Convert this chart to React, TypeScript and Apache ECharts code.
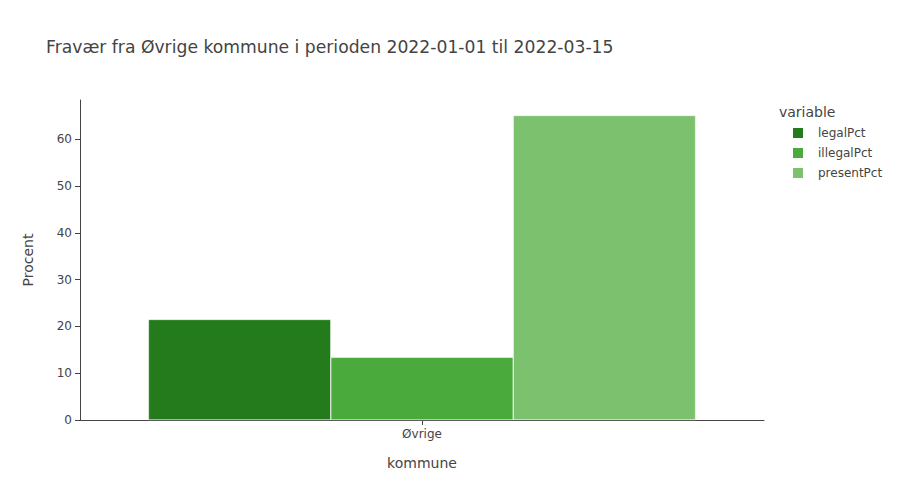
import React, { useEffect, useRef } from "react";
import * as echarts from "echarts";

const categories = ["Øvrige"];
const seriesNames = ["legalPct", "illegalPct", "presentPct"];
const legalPct = [21.5];
const illegalPct = [13.4];
const presentPct = [65.1];
const colors = ["#237b1b", "#4aab3c", "#7cc16d"];
const titleText = "Fravær fra Øvrige kommune i perioden 2022-01-01 til 2022-03-15";

const FONT = '"DejaVu Sans", verdana, arial, sans-serif';

export default function App() {
  const ref = useRef<HTMLDivElement>(null);
  useEffect(() => {
    document.body.style.margin = "0";
    if (!ref.current) return;
    const chart = echarts.init(ref.current, null, { renderer: "svg" });
    const values = [legalPct, illegalPct, presentPct];
    chart.setOption({
      animation: false,
      textStyle: { fontFamily: FONT, color: "#444" },
      title: {
        text: titleText,
        left: 41,
        top: 33,
        textStyle: { fontFamily: FONT, fontSize: 17.2, fontWeight: "normal", color: "#444" },
      },
      grid: { left: 80, right: 136, top: 100, bottom: 80, containLabel: false },
      legend: {
        left: 786,
        top: 121,
        orient: "vertical",
        icon: "rect",
        itemWidth: 12,
        itemHeight: 12,
        itemGap: 6,
        textStyle: { fontFamily: FONT, fontSize: 12, color: "#444", padding: [0, 0, 0, 9] },
        data: seriesNames,
      },
      graphic: [
        {
          type: "text",
          left: 779,
          top: 105,
          style: { text: "variable", fontFamily: FONT, fontSize: 14, fill: "#444" },
        },
      ],
      xAxis: {
        type: "category",
        data: categories,
        name: "kommune",
        nameLocation: "middle",
        nameGap: 36,
        nameTextStyle: { fontFamily: FONT, fontSize: 14, color: "#444" },
        axisLine: { lineStyle: { color: "#444", width: 1 } },
        axisTick: { show: true, alignWithLabel: true, length: 5, lineStyle: { color: "#444" } },
        axisLabel: { fontFamily: FONT, fontSize: 12, color: "#444", margin: 8 },
        splitLine: { show: false },
      },
      yAxis: {
        type: "value",
        min: 0,
        max: 68.4,
        interval: 10,
        name: "Procent",
        nameLocation: "middle",
        nameGap: 45,
        nameTextStyle: { fontFamily: FONT, fontSize: 14, color: "#444" },
        axisLine: { show: true, lineStyle: { color: "#444", width: 1 } },
        axisTick: { show: true, length: 5, lineStyle: { color: "#444" } },
        axisLabel: { fontFamily: FONT, fontSize: 12, color: "#444", margin: 8, showMaxLabel: false },
        splitLine: { show: false },
      },
      series: seriesNames.map((n, i) => ({
        name: n,
        type: "bar",
        data: values[i],
        barGap: "0%",
        barCategoryGap: "20%",
        itemStyle: { color: colors[i], borderColor: "#ffffff", borderWidth: 0.5 },
      })),
    });
    return () => chart.dispose();
  }, []);
  return <div ref={ref} style={{ width: 900, height: 500 }} />;
}
